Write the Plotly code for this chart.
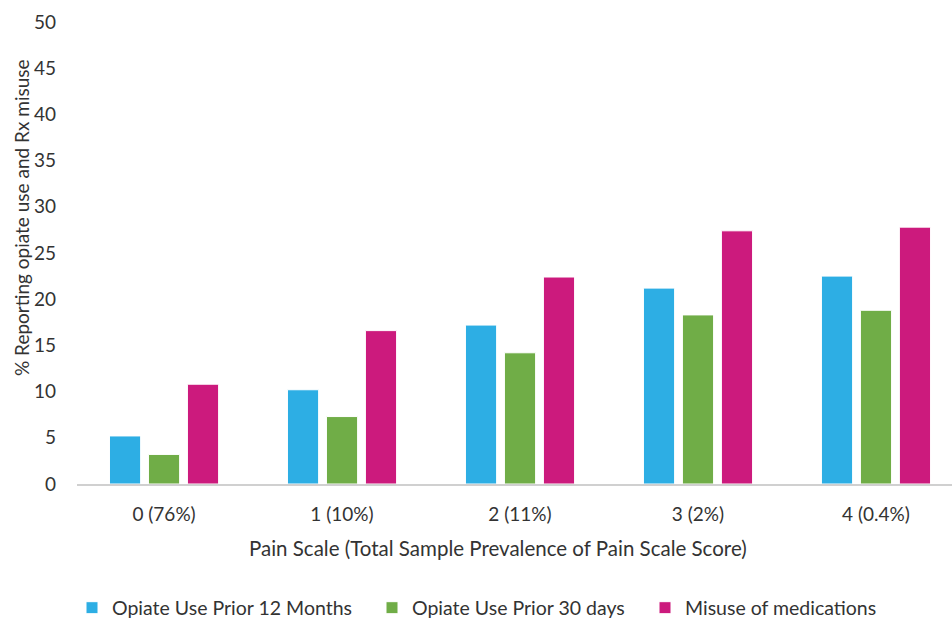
import plotly.graph_objects as go

categories = ["0 (76%)", "1 (10%)", "2 (11%)", "3 (2%)", "4 (0.4%)"]
series_names = ["Opiate Use Prior 12 Months", "Opiate Use Prior 30 days", "Misuse of medications"]
opiate_12m = [5.2, 10.2, 17.2, 21.2, 22.5]
opiate_30d = [3.2, 7.3, 14.2, 18.3, 18.8]
misuse_meds = [10.8, 16.6, 22.4, 27.4, 27.8]
colors = ["#2DAEE4", "#70AD47", "#CC1A7D"]
y_ticks = [0, 5, 10, 15, 20, 25, 30, 35, 40, 45, 50]

FONT = "Lato"
TXT = "#333333"
W, H = 952, 619
ml, mr, mt, mb = 77, 0, 22, 135

legend_ids = ["legend", "legend2", "legend3"]
legend_x_px = [72, 372, 645]

fig = go.Figure()
for name, vals, col, lid in zip(series_names, [opiate_12m, opiate_30d, misuse_meds], colors, legend_ids):
    fig.add_trace(go.Bar(
        x=list(range(len(categories))), y=vals, name=name, legend=lid,
        marker=dict(color=col, line=dict(color="white", width=1)),
    ))

legend_common = dict(orientation="h", xref="container", yref="container",
                     xanchor="left", yanchor="middle", y=1 - 608 / H,
                     font=dict(size=19.5, color=TXT), itemwidth=30,
                     bgcolor="rgba(0,0,0,0)")

fig.update_layout(
    width=W, height=H,
    margin=dict(l=ml, r=mr, t=mt, b=mb, pad=0, autoexpand=False),
    paper_bgcolor="white", plot_bgcolor="white",
    font=dict(family=FONT, size=19, color=TXT),
    barmode="group", bargap=0.343, bargroupgap=0.2,
    showlegend=True,
    legend=dict(x=legend_x_px[0] / W, **legend_common),
    legend2=dict(x=legend_x_px[1] / W, **legend_common),
    legend3=dict(x=legend_x_px[2] / W, **legend_common),
    xaxis=dict(
        tickmode="array", tickvals=list(range(len(categories))), ticktext=categories,
        range=[-0.489, 4.427], showgrid=False, zeroline=False,
        showline=True, linecolor="#D0D0D0", linewidth=2,
        ticks="", ticklabelstandoff=12, tickfont=dict(size=19),
    ),
    yaxis=dict(
        range=[0, 50], tickvals=y_ticks, showgrid=False, zeroline=False,
        showline=False, ticks="", ticklabelstandoff=20, tickfont=dict(size=19),
    ),
    annotations=[
        dict(text="% Reporting opiate use and Rx misuse", textangle=-90,
             xref="paper", yref="paper", x=(21 - ml) / (W - ml - mr), y=1 - (218 - mt) / (H - mt - mb),
             xanchor="center", yanchor="middle", showarrow=False, font=dict(size=19, color=TXT)),
        dict(text="Pain Scale (Total Sample Prevalence of Pain Scale Score)",
             xref="paper", yref="paper", x=(498 - ml) / (W - ml - mr), y=1 - (548 - mt) / (H - mt - mb),
             xanchor="center", yanchor="middle", showarrow=False, font=dict(size=20.5, color=TXT)),
    ],
)

fig.write_html("out.html")
